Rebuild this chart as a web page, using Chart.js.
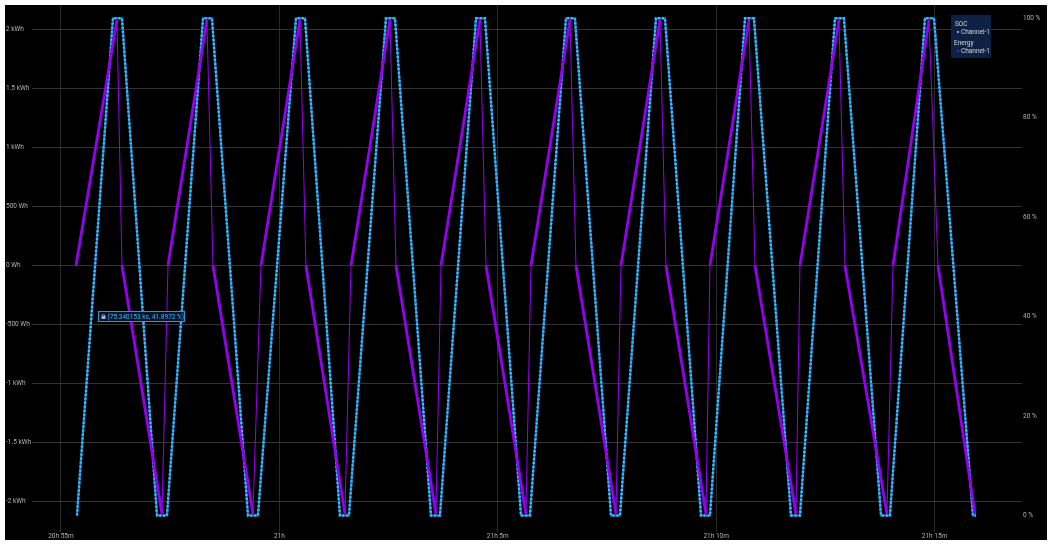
<!DOCTYPE html>
<html>
<head>
<meta charset="utf-8">
<script src="https://cdn.jsdelivr.net/npm/chart.js@4.4.0/dist/chart.umd.min.js"></script>
<style>
body { margin: 0; background: #fff; }
#wrap { position: absolute; left: 5px; top: 5px; width: 1042px; height: 535px; background: #000; }
</style>
</head>
<body>
<div id="wrap"><canvas id="chart" width="1042" height="535"></canvas></div>
<script>
// time in seconds since midnight
var socTimes = [75322.0, 75371.4, 75383.8, 75431.9, 75445.6, 75495.1, 75507.4, 75556.9, 75570.6,
    75622.8, 75635.2, 75683.2, 75695.6, 75746.4, 75758.8, 75808.2, 75820.6, 75870.1, 75882.4,
    75931.9, 75944.2, 75993.7, 76006.0, 76055.5, 76067.9, 76117.3, 76129.7, 76179.1, 76191.5,
    76239.6, 76251.9, 76302.7, 76315.1, 76363.2, 76375.5, 76426.4, 76438.7, 76486.8, 76499.2,
    76552.7, 76556.9];
var socValues = [0, 100, 100, 0, 0, 100, 100, 0, 0,
    100, 100, 0, 0, 100, 100, 0, 0, 100, 100,
    0, 0, 100, 100, 0, 0, 100, 100, 0, 0,
    100, 100, 0, 0, 100, 100, 0, 0, 100, 100,
    0, 0];

var energyTimes = [75320.6, 75376.9, 75383.8, 75438.7, 75447.0, 75500.5, 75508.8, 75563.7,
    75574.7, 75628.3, 75636.5, 75690.1, 75698.4, 75751.9, 75760.2, 75815.1,
    75822.0, 75875.5, 75883.8, 75938.7, 75945.6, 75999.2, 76007.4, 76062.4,
    76069.2, 76122.8, 76131.0, 76186.0, 76191.5, 76245.1, 76253.3, 76309.6,
    76315.1, 76368.7, 76376.9, 76434.6, 76442.9, 76492.3, 76504.7, 76555.5];
var energyValues = [0, 2080, 0, -2105, 0, 2080, 0, -2105,
    0, 2080, 0, -2105, 0, 2080, 0, -2105,
    0, 2080, 0, -2105, 0, 2080, 0, -2105,
    0, 2080, 0, -2105, 0, 2080, 0, -2105,
    0, 2080, 0, -2105, 0, 2080, 0, -2105];

var timeTicks = [75300, 75600, 75900, 76200, 76500];
var timeLabels = ["20h 55m", "21h", "21h 5m", "21h 10m", "21h 15m"];
var energyTicks = [-2000, -1500, -1000, -500, 0, 500, 1000, 1500, 2000];
var energyLabels = ["-2 kWh", "-1.5 kWh", "-1 kWh", "-500 Wh", "0 Wh", "500 Wh", "1 kWh", "1.5 kWh", "2 kWh"];
var socTicks = [0, 20, 40, 60, 80, 100];
var socLabels = ["0 %", "20 %", "40 %", "60 %", "80 %", "100 %"];

var pinX = 75340.153;
var pinY = 41.8972;
var pinText = "(75.340153 ks, 41.8972 %)";

var SOC_COLOR = "#1b82d4";
var SOC_DOT = "#3fbcf8";
var ENERGY_COLOR = "#9600f0";
var TEXT_COLOR = "#b0b0b0";
var FONT = "Roboto";

function toPoints(xs, ys) {
    var pts = [];
    for (var i = 0; i < xs.length; i++) {
        pts.push({ x: xs[i], y: ys[i] });
    }
    return pts;
}

function fixedTicks(values) {
    return function (scale) {
        scale.ticks = values.map(function (v) { return { value: v }; });
    };
}

function labelFor(values, labels) {
    return function (value) {
        var i = values.indexOf(value);
        return i >= 0 ? labels[i] : "";
    };
}

function noPad(size, isWidth) {
    return function (scale) {
        if (isWidth) scale.width = size; else scale.height = size;
        scale.paddingTop = 0;
        scale.paddingBottom = 0;
        scale.paddingLeft = 0;
        scale.paddingRight = 0;
    };
}

var legendPlugin = {
    id: "groupLegend",
    afterDraw: function (chart) {
        var ctx = chart.ctx;
        ctx.save();
        ctx.fillStyle = "#0c2144";
        ctx.fillRect(946, 10, 40, 43);
        ctx.font = "6.5px " + FONT;
        ctx.textBaseline = "middle";
        ctx.textAlign = "left";
        ctx.fillStyle = "#d6d6d6";
        ctx.fillText("SOC", 950, 19);
        ctx.fillText("Channel-1", 956, 27);
        ctx.fillText("Energy", 949, 38);
        ctx.fillText("Channel-1", 956, 46);
        ctx.fillStyle = SOC_DOT;
        ctx.fillRect(952, 26, 2, 2);
        ctx.fillStyle = ENERGY_COLOR;
        ctx.fillRect(952, 45, 2, 2);
        ctx.restore();
    }
};

var pinPlugin = {
    id: "pinnedValue",
    afterDatasetsDraw: function (chart) {
        var ctx = chart.ctx;
        var px = chart.scales.x.getPixelForValue(pinX);
        var py = chart.scales.ySoc.getPixelForValue(pinY);
        var bx = Math.round(px + 8) + 0.5;
        var by = Math.round(py + 4) + 0.5;
        ctx.save();
        ctx.fillStyle = "#05152b";
        ctx.strokeStyle = "#1e9be0";
        ctx.lineWidth = 1;
        ctx.fillRect(bx, by, 86, 10);
        ctx.strokeRect(bx, by, 86, 10);
        // lock icon
        ctx.fillStyle = "#9fb4c8";
        ctx.fillRect(bx + 3, by + 4.5, 4, 3);
        ctx.strokeStyle = "#9fb4c8";
        ctx.beginPath();
        ctx.arc(bx + 5, by + 4.5, 1.4, Math.PI, 0);
        ctx.stroke();
        ctx.font = "6.5px " + FONT;
        ctx.textBaseline = "middle";
        ctx.fillStyle = "#3cb4ff";
        ctx.fillText(pinText, bx + 9, by + 5.5);
        ctx.restore();
    }
};

// first dataset is painted last, so energy sits on top and the dots on the blue line
var chart = new Chart(document.getElementById("chart"), {
    type: "line",
    data: {
        datasets: [
            {
                label: "Energy Channel-1",
                data: toPoints(energyTimes, energyValues),
                yAxisID: "yE",
                borderColor: ENERGY_COLOR,
                borderWidth: 2.8,
                pointRadius: 0,
                segment: {
                    borderWidth: function (c) { return c.p1.parsed.y === 0 ? 1 : 2.8; }
                }
            },
            {
                label: "SOC dots",
                data: toPoints(socTimes, socValues),
                yAxisID: "ySoc",
                borderColor: SOC_DOT,
                borderWidth: 2.5,
                borderDash: [2, 2],
                pointRadius: 0
            },
            {
                label: "SOC Channel-1",
                data: toPoints(socTimes, socValues),
                yAxisID: "ySoc",
                borderColor: SOC_COLOR,
                borderWidth: 2,
                pointRadius: 0
            }
        ]
    },
    options: {
        responsive: false,
        animation: false,
        devicePixelRatio: 1,
        layout: { padding: { left: 1, right: 0, top: 0, bottom: 0 } },
        plugins: {
            legend: { display: false },
            tooltip: { enabled: false }
        },
        scales: {
            x: {
                type: "linear",
                position: "bottom",
                min: 75260.2,
                max: 76620.1,
                afterBuildTicks: fixedTicks(timeTicks),
                afterFit: noPad(11, false),
                border: { display: false },
                grid: { color: "#2a2a2a", tickLength: 3 },
                ticks: {
                    autoSkip: false,
                    maxRotation: 0,
                    padding: 0,
                    color: TEXT_COLOR,
                    font: { family: FONT, size: 6.5 },
                    callback: labelFor(timeTicks, timeLabels)
                }
            },
            yE: {
                type: "linear",
                position: "left",
                min: -2231.2,
                max: 2205.8,
                afterBuildTicks: fixedTicks(energyTicks),
                afterFit: noPad(26, true),
                border: { display: false },
                grid: { color: "#333333", drawTicks: false },
                ticks: {
                    crossAlign: "far",
                    padding: 0,
                    color: TEXT_COLOR,
                    font: { family: FONT, size: 6.5 },
                    callback: labelFor(energyTicks, energyLabels)
                }
            },
            ySoc: {
                type: "linear",
                position: "right",
                min: -2.72,
                max: 102.68,
                afterBuildTicks: fixedTicks(socTicks),
                afterFit: noPad(25, true),
                border: { display: false },
                grid: { display: false, drawTicks: false },
                ticks: {
                    padding: 1,
                    color: TEXT_COLOR,
                    font: { family: FONT, size: 6.5 },
                    callback: labelFor(socTicks, socLabels)
                }
            }
        }
    },
    plugins: [legendPlugin, pinPlugin]
});
</script>
</body>
</html>
